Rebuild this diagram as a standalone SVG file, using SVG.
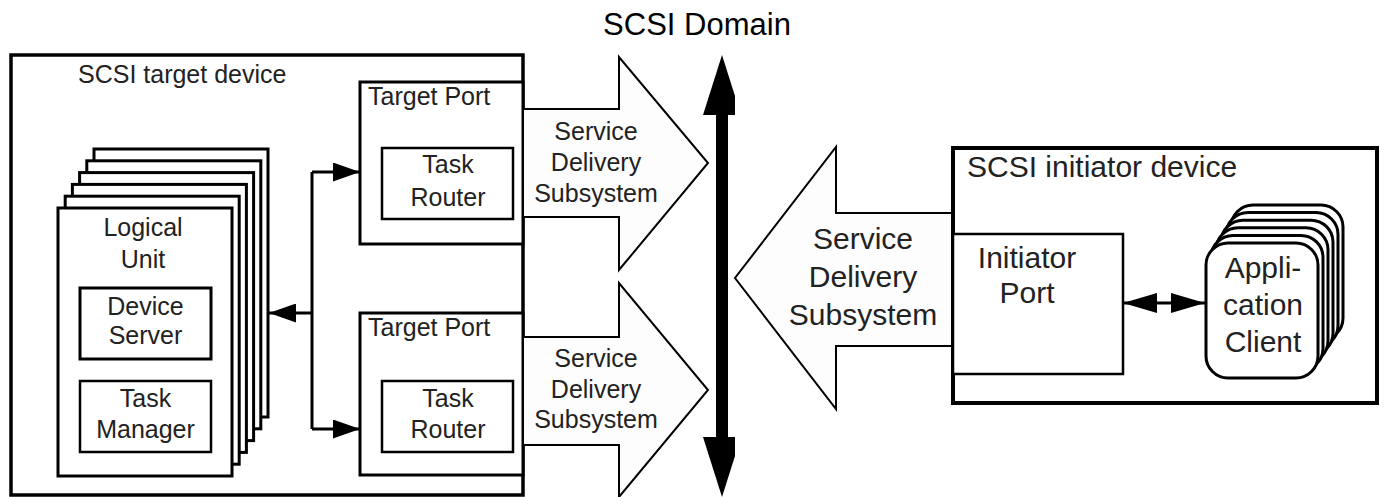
<svg xmlns="http://www.w3.org/2000/svg" width="1387" height="497" viewBox="0 0 1387 497">
<style>
.t{font-family:"Liberation Sans",Arial,sans-serif;fill:#222}
.l{font-size:25px}
.r{font-size:30px}
.c{text-anchor:middle}
.box{fill:#fff;stroke:#000}
.sds{fill:#fdfdfd;stroke:#000;stroke-width:2;stroke-linejoin:miter}
.ln{fill:none;stroke:#000;stroke-width:3}
</style>
<defs>
<marker id="ah" viewBox="0 0 27 19" refX="27" refY="9.5" markerWidth="27" markerHeight="19" markerUnits="userSpaceOnUse" orient="auto-start-reverse"><path d="M0,0 L27,9.5 L0,19 z" fill="#000"/></marker>
<marker id="ah2" viewBox="0 0 34 20" refX="34" refY="10" markerWidth="34" markerHeight="20" markerUnits="userSpaceOnUse" orient="auto-start-reverse"><path d="M0,0 L34,10 L0,20 z" fill="#000"/></marker>
</defs>
<rect width="1387" height="497" fill="#fff"/>

<text class="t c" x="697" y="35" style="font-size:31px;fill:#000">SCSI Domain</text>

<g id="target-device">
<rect class="box" x="11" y="55" width="512" height="440" stroke-width="3.5"/>
<text class="t l" x="78" y="83">SCSI target device</text>
</g>

<g id="logical-unit">
<rect class="box" x="94" y="149" width="174" height="268" stroke-width="3"/>
<rect class="box" x="86.8" y="160.8" width="174" height="268" stroke-width="3"/>
<rect class="box" x="79.6" y="172.6" width="174" height="268" stroke-width="3"/>
<rect class="box" x="72.4" y="184.4" width="174" height="268" stroke-width="3"/>
<rect class="box" x="65.2" y="196.2" width="174" height="268" stroke-width="3"/>
<rect class="box" x="58" y="208" width="174" height="268" stroke-width="3"/>
<text class="t l c" x="143" y="236">Logical</text>
<text class="t l c" x="143" y="268">Unit</text>
</g>

<g id="device-server">
<rect class="box" x="80" y="288" width="131" height="71" stroke-width="3"/>
<text class="t l c" x="145.5" y="315">Device</text>
<text class="t l c" x="145.5" y="344">Server</text>
</g>

<g id="task-manager">
<rect class="box" x="80" y="381" width="131" height="71" stroke-width="2.5"/>
<text class="t l c" x="145.5" y="407">Task</text>
<text class="t l c" x="145.5" y="438">Manager</text>
</g>

<g id="target-port-1">
<rect class="box" x="360" y="82" width="163" height="162" stroke-width="3"/>
<text class="t l" x="368" y="105">Target Port</text>
</g>
<g id="task-router-1">
<rect class="box" x="382" y="148" width="131" height="71" stroke-width="2.5"/>
<text class="t l c" x="448" y="173">Task</text>
<text class="t l c" x="448" y="206">Router</text>
</g>

<g id="target-port-2">
<rect class="box" x="360" y="313" width="163" height="162" stroke-width="3"/>
<text class="t l" x="368" y="336">Target Port</text>
</g>
<g id="task-router-2">
<rect class="box" x="382" y="381" width="131" height="71" stroke-width="2.5"/>
<text class="t l c" x="448" y="407">Task</text>
<text class="t l c" x="448" y="438">Router</text>
</g>

<g id="sds-1">
<polygon class="sds" points="523,109 619,109 619,57 708,163 619,270 619,217 523,217"/>
<text class="t l c" x="596" y="140">Service</text>
<text class="t l c" x="596" y="171">Delivery</text>
<text class="t l c" x="596" y="202">Subsystem</text>
</g>

<g id="sds-2">
<polygon class="sds" points="523,337 619,337 619,283 708,390 619,497 619,445 523,445"/>
<text class="t l c" x="596" y="367">Service</text>
<text class="t l c" x="596" y="398">Delivery</text>
<text class="t l c" x="596" y="428">Subsystem</text>
</g>

<g id="sds-3">
<polygon class="sds" points="952,213 836,213 836,147 735,278 836,409 836,346 952,346"/>
<text class="t r c" x="863" y="249">Service</text>
<text class="t r c" x="863" y="287">Delivery</text>
<text class="t r c" x="863" y="325">Subsystem</text>
</g>

<g id="initiator-device">
<rect class="box" x="953" y="148" width="424" height="255" stroke-width="4"/>
<text class="t r" x="967" y="177">SCSI initiator device</text>
</g>

<g id="initiator-port">
<rect class="box" x="953" y="234" width="170" height="140" stroke-width="2.5"/>
<text class="t r c" x="1027" y="268">Initiator</text>
<text class="t r c" x="1027" y="303">Port</text>
</g>

<g id="application-client">
<rect class="box" x="1231" y="205" width="112" height="135" rx="22" stroke-width="3"/>
<rect class="box" x="1226" y="212.6" width="112" height="135" rx="22" stroke-width="3"/>
<rect class="box" x="1221" y="220.2" width="112" height="135" rx="22" stroke-width="3"/>
<rect class="box" x="1216" y="227.8" width="112" height="135" rx="22" stroke-width="3"/>
<rect class="box" x="1211" y="235.4" width="112" height="135" rx="22" stroke-width="3"/>
<rect class="box" x="1206" y="243" width="112" height="135" rx="22" stroke-width="3"/>
<text class="t r c" x="1263" y="278">Appli-</text>
<text class="t r c" x="1263" y="315">cation</text>
<text class="t r c" x="1263" y="352">Client</text>
</g>

<g id="connectors">
<path class="ln" d="M312,172 V429"/>
<path class="ln" d="M312,172 H360" marker-end="url(#ah)"/>
<path class="ln" d="M312,429 H360" marker-end="url(#ah)"/>
<path class="ln" d="M312,313 H269" marker-end="url(#ah)"/>
<path class="ln" d="M1123,303 H1205" marker-start="url(#ah2)" marker-end="url(#ah2)"/>
<rect x="716" y="113" width="12" height="326" fill="#000"/>
<polygon points="722,55 735,96 735,115 703,115" fill="#000"/>
<polygon points="703,437 735,437 735,456 722,497" fill="#000"/>
</g>
</svg>
